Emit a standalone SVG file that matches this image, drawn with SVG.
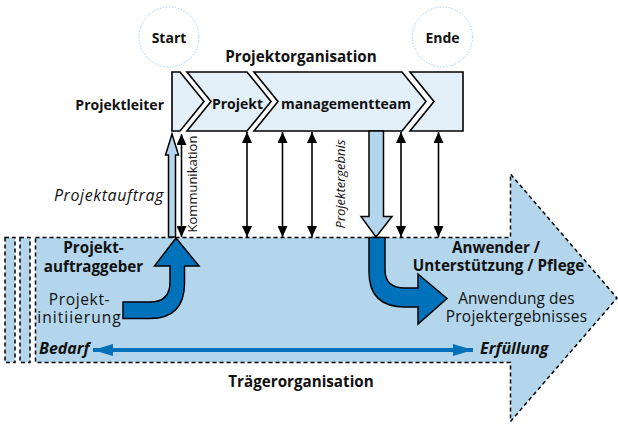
<svg xmlns="http://www.w3.org/2000/svg" width="618" height="425" viewBox="0 0 618 425">
<defs>
<style>
text{font-family:"Open Sans","Liberation Sans",sans-serif;fill:#111}
.b{font-weight:bold;font-size:14px}
.b2{font-weight:bold;font-size:15.2px}
.n{font-size:15.4px}
.c{text-anchor:middle}
.bar{fill:#e3f0f9;stroke:#000;stroke-width:1.6;stroke-linejoin:miter}
.dash{fill:#b3d6ec;stroke:#000;stroke-width:1.5;stroke-dasharray:4 3}
.circ{fill:#fff;stroke:#a9cfe8;stroke-width:1;stroke-dasharray:1.5 1.5}
.conn{stroke:#000;stroke-width:1.6;fill:none}
.dark{fill:#0072bb;stroke:#000;stroke-width:1.5;stroke-linejoin:miter}
.hollow{fill:#b3d6ec;stroke:#000;stroke-width:1.5;stroke-linejoin:miter}
</style>
<marker id="ah" viewBox="0 0 11 10" refX="11" refY="5" markerWidth="11" markerHeight="10" markerUnits="userSpaceOnUse" orient="auto-start-reverse">
<path d="M0,0 L11,5 L0,10 Z" fill="#000"/>
</marker>
<marker id="bh" viewBox="0 0 20 12" refX="20" refY="6" markerWidth="20" markerHeight="12" markerUnits="userSpaceOnUse" orient="auto-start-reverse">
<path d="M0,0 L20,6 L0,12 Z" fill="#0070b8"/>
</marker>
</defs>

<g id="traegerorganisation">
<rect class="dash" x="5" y="237.5" width="10" height="125"/>
<rect class="dash" x="20" y="237.5" width="10" height="125"/>
<path class="dash" d="M35.5,237.5 L510.5,237.5 L510.5,174 L617,298 L510.5,421.5 L510.5,362.5 L35.5,362.5 Z"/>
<text class="b2 c" x="301" y="387">Trägerorganisation</text>
</g>

<g id="start">
<circle class="circ" cx="169" cy="37" r="30"/>
<text class="b c" x="169" y="42.5">Start</text>
</g>
<g id="ende">
<circle class="circ" cx="442.5" cy="37" r="30"/>
<text class="b c" x="442.5" y="42.5">Ende</text>
</g>

<g id="projektorganisation">
<text class="b2 c" x="301" y="61.5">Projektorganisation</text>
<text class="b" x="164" y="110" text-anchor="end">Projektleiter</text>
<path id="seg1" class="bar" d="M172,72 L180,72 L204,101.5 L180,131 L172,131 Z"/>
<path id="seg2" class="bar" d="M187,72 L247,72 L271,101.5 L247,131 L187,131 L211,101.5 Z"/>
<path id="seg3" class="bar" d="M254,72 L402,72 L426,101.5 L402,131 L254,131 L278,101.5 Z"/>
<path id="seg4" class="bar" d="M410,72 L463,72 L463,131 L410,131 L434,101.5 Z"/>
<text class="b c" x="237.5" y="109">Projekt</text>
<text class="b c" x="346" y="109">managementteam</text>
</g>

<g id="connectors">
<line class="conn" x1="181.5" y1="134" x2="181.5" y2="237" marker-start="url(#ah)" marker-end="url(#ah)"/>
<line class="conn" x1="247" y1="132" x2="247" y2="237" marker-start="url(#ah)" marker-end="url(#ah)"/>
<line class="conn" x1="282.5" y1="132" x2="282.5" y2="237" marker-start="url(#ah)" marker-end="url(#ah)"/>
<line class="conn" x1="312" y1="132" x2="312" y2="237" marker-start="url(#ah)" marker-end="url(#ah)"/>
<line class="conn" x1="401" y1="132" x2="401" y2="237" marker-start="url(#ah)" marker-end="url(#ah)"/>
<line class="conn" x1="438.5" y1="132" x2="438.5" y2="237" marker-start="url(#ah)" marker-end="url(#ah)"/>
<path id="auftrag" class="hollow" d="M168.5,237 L175.5,237 L175.5,155 L178.5,155 L172,134 L165.5,155 L168.5,155 Z"/>
<path id="ergebnis" class="hollow" d="M369,131 L383.5,131 L383.5,216.5 L392,216.5 L376,237 L361,216.5 L369,216.5 Z"/>
<line x1="93" y1="350" x2="473" y2="350" stroke="#0070b8" stroke-width="4" marker-start="url(#bh)" marker-end="url(#bh)"/>
</g>

<g id="initiierung">
<path class="dark" d="M123,302 L150,302 Q170,302 170,282 L170,266 L154.5,266 L176,238 L199,266 L184.5,266 L184.5,283 Q184.5,318.5 150,318.5 L123,318.5 Z"/>
<text class="b2 c" x="93.5" y="253">Projekt-</text>
<text class="b2 c" x="93.5" y="271.5">auftraggeber</text>
<text class="c" x="79.5" y="305" font-size="15.6" letter-spacing="0.6">Projekt-</text>
<text class="c" x="79.5" y="323" font-size="15.6" letter-spacing="1">initiierung</text>
</g>

<g id="anwendung">
<path class="dark" d="M369,237.5 L385,237.5 L385,270 Q385,288 405,288 L418,288 L418,274 L447,298.5 L418,324 L418,307 L405,307 Q369,307 369,272 Z"/>
<text class="b2 c" x="496" y="253">Anwender /</text>
<text class="b2 c" x="498.5" y="271">Unterstützung / Pflege</text>
<text class="n c" x="516.5" y="304" letter-spacing="0.1">Anwendung des</text>
<text class="n c" x="516.5" y="322" letter-spacing="0.3">Projektergebnisses</text>
</g>

<g id="labels">
<text x="164" y="201" font-size="16" letter-spacing="0.6" text-anchor="end" font-style="italic">Projektauftrag</text>
<text x="196.5" y="184" font-size="13" text-anchor="middle" transform="rotate(-90 196.5 184)">Kommunikation</text>
<text x="345" y="184" font-size="13" font-style="italic" text-anchor="middle" transform="rotate(-90 345 184)">Projektergebnis</text>
<text x="39" y="354" font-size="16" font-weight="bold" font-style="italic">Bedarf</text>
<text x="480" y="354" font-size="16" font-weight="bold" font-style="italic">Erfüllung</text>
</g>
</svg>
